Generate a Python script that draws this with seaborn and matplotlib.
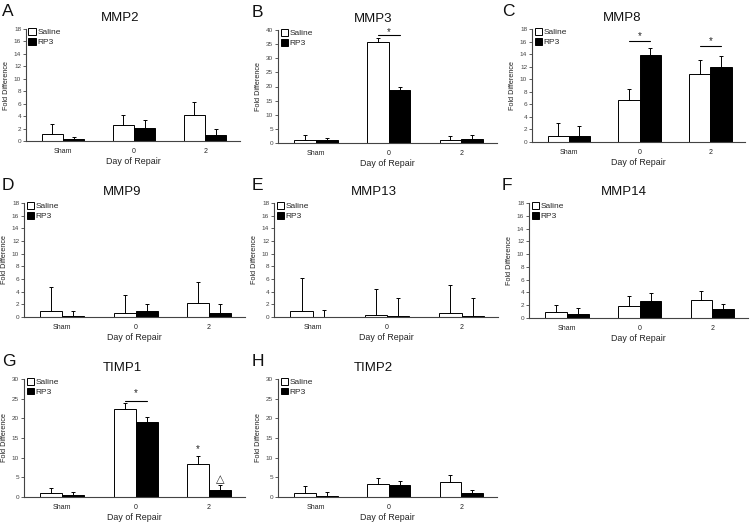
"""Fold difference of MMP / TIMP expression after repair, saline vs RP3."""
import matplotlib
matplotlib.use('Agg')
import matplotlib.pyplot as plt
import pandas as pd
import seaborn as sns

days = ['Sham', '0', '2']
groups = ['Saline', 'RP3']

# mean values and top of the error bar, per panel: [Sham, 0, 2]
mmp2_saline = [1.1, 2.5, 4.1]
mmp2_saline_err = [2.7, 4.1, 6.2]
mmp2_rp3 = [0.3, 2.1, 1.0]
mmp2_rp3_err = [0.6, 3.4, 1.9]

mmp3_saline = [1.0, 35.7, 1.1]
mmp3_saline_err = [2.9, 37.0, 2.5]
mmp3_rp3 = [0.9, 18.8, 1.4]
mmp3_rp3_err = [1.7, 19.7, 3.0]

mmp8_saline = [1.0, 6.7, 10.8]
mmp8_saline_err = [3.1, 8.5, 13.1]
mmp8_rp3 = [1.0, 13.8, 12.0]
mmp8_rp3_err = [2.6, 14.9, 13.7]

mmp9_saline = [1.0, 0.7, 2.2]
mmp9_saline_err = [4.7, 3.5, 5.6]
mmp9_rp3 = [0.15, 0.9, 0.6]
mmp9_rp3_err = [1.0, 2.1, 2.1]

mmp13_saline = [1.0, 0.3, 0.6]
mmp13_saline_err = [6.1, 4.5, 5.1]
mmp13_rp3 = [0.05, 0.2, 0.1]
mmp13_rp3_err = [1.1, 3.0, 3.0]

mmp14_saline = [1.0, 1.9, 2.8]
mmp14_saline_err = [2.0, 3.5, 4.2]
mmp14_rp3 = [0.6, 2.6, 1.4]
mmp14_rp3_err = [1.5, 3.9, 2.2]

timp1_saline = [1.0, 22.5, 8.4]
timp1_saline_err = [2.2, 23.9, 10.3]
timp1_rp3 = [0.5, 19.1, 1.9]
timp1_rp3_err = [1.3, 20.4, 3.0]

timp2_saline = [1.0, 3.3, 3.8]
timp2_saline_err = [2.9, 4.9, 5.6]
timp2_rp3 = [0.3, 3.0, 1.1]
timp2_rp3_err = [1.2, 4.1, 1.9]

sns.set_style('ticks')
plt.rcParams['font.family'] = ['Liberation Sans', 'DejaVu Sans']

W, H = 753, 522
fig = plt.figure(figsize=(W / 100, H / 100), dpi=100)

AX_COL = '#444444'


def px_axes(left, right, top, bottom):
    return fig.add_axes([left / W, 1 - bottom / H, (right - left) / W, (bottom - top) / H])


def panel(box, col_left, letter, title, ymax, ystep, saline, saline_err, rp3, rp3_err):
    left, right, top, bottom = box
    ax = px_axes(*box)
    df = pd.DataFrame({
        'day': days * 2,
        'group': [groups[0]] * 3 + [groups[1]] * 3,
        'value': saline + rp3,
    })
    sns.barplot(data=df, x='day', y='value', hue='group', order=days, hue_order=groups,
                palette={'Saline': 'white', 'RP3': 'black'}, edgecolor='black',
                linewidth=0.7, width=0.6, errorbar=None, ax=ax)
    for cont, tops in zip(ax.containers, [saline_err, rp3_err]):
        for bar, t in zip(cont, tops):
            xc = bar.get_x() + bar.get_width() / 2
            h = bar.get_height()
            ax.errorbar(xc, h, yerr=[[0], [t - h]], fmt='none', ecolor='black',
                        elinewidth=0.7, capsize=1.6, capthick=0.7)
    ax.set_ylim(0, ymax)
    ax.set_xlim(-0.52, 2.49)
    ax.set_yticks(range(0, ymax + 1, ystep))
    sns.despine(ax=ax)
    for s in ['left', 'bottom']:
        ax.spines[s].set_color(AX_COL)
        ax.spines[s].set_linewidth(0.8)
    ax.tick_params(axis='y', labelsize=4.6, colors=AX_COL, length=2, width=0.6, pad=1.5)
    ax.tick_params(axis='x', labelsize=5, colors='#222222', length=0, pad=5)
    ax.set_xlabel('Day of Repair', fontsize=6.4, color='#222222', labelpad=1.5)
    ax.set_ylabel('Fold Difference', fontsize=5.2, color='#222222', labelpad=3)
    # title centred over the whole panel (axis plus label strip)
    tx = ((col_left + right) / 2 - left) / (right - left)
    ax.set_title(title, fontsize=9.5, color='#111111', pad=6, x=tx)
    leg = ax.legend(loc='upper left', bbox_to_anchor=(0.0, 1.03), frameon=False,
                    fontsize=6, handlelength=0.85, handleheight=0.85,
                    handletextpad=0.2, labelspacing=0.2, borderaxespad=0.1,
                    borderpad=0.2)
    for hd in leg.legend_handles:
        hd.set_edgecolor('black')
        hd.set_linewidth(0.7)
    fig.text((col_left + 2) / W, 1 - (top - 25) / H, letter, fontsize=12.5,
             ha='left', va='top', color='#111111')
    return ax


def bracket(ax, day_idx, y, star_y):
    bars = [c[day_idx] for c in ax.containers]
    x0 = bars[0].get_x() + bars[0].get_width() / 2
    x1 = bars[1].get_x() + bars[1].get_width() / 2
    ax.plot([x0, x1], [y, y], color='black', lw=0.8, clip_on=False)
    ax.text((x0 + x1) / 2, star_y, '*', ha='center', va='center', fontsize=7)


axA = panel((26, 240, 29, 141), 0, 'A', 'MMP2', 18, 2, mmp2_saline, mmp2_saline_err, mmp2_rp3, mmp2_rp3_err)
axB = panel((278, 497, 30, 143), 250, 'B', 'MMP3', 40, 5, mmp3_saline, mmp3_saline_err, mmp3_rp3, mmp3_rp3_err)
axC = panel((532, 745, 29, 142), 500, 'C', 'MMP8', 18, 2, mmp8_saline, mmp8_saline_err, mmp8_rp3, mmp8_rp3_err)
axD = panel((24, 245, 203, 317), 0, 'D', 'MMP9', 18, 2, mmp9_saline, mmp9_saline_err, mmp9_rp3, mmp9_rp3_err)
axE = panel((274, 498, 203, 317), 250, 'E', 'MMP13', 18, 2, mmp13_saline, mmp13_saline_err, mmp13_rp3, mmp13_rp3_err)
axF = panel((529, 748, 203, 318), 500, 'F', 'MMP14', 18, 2, mmp14_saline, mmp14_saline_err, mmp14_rp3, mmp14_rp3_err)
axG = panel((24, 245, 379, 497), 0, 'G', 'TIMP1', 30, 5, timp1_saline, timp1_saline_err, timp1_rp3, timp1_rp3_err)
axH = panel((278, 497, 379, 497), 250, 'H', 'TIMP2', 30, 5, timp2_saline, timp2_saline_err, timp2_rp3, timp2_rp3_err)

bracket(axB, 1, 38.4, 39.4)
bracket(axC, 1, 16.1, 16.9)
bracket(axC, 2, 15.3, 16.1)
bracket(axG, 1, 24.4, 26.3)
g2 = [c[2] for c in axG.containers]
axG.text(g2[0].get_x() + g2[0].get_width() / 2, 12.3, '*', ha='center', va='center', fontsize=7)
axG.text(g2[1].get_x() + g2[1].get_width() / 2, 4.6, '\u25b3', ha='center', va='center',
         fontsize=8, family=['DejaVu Sans'])

fig.savefig('out.png', dpi=100)
